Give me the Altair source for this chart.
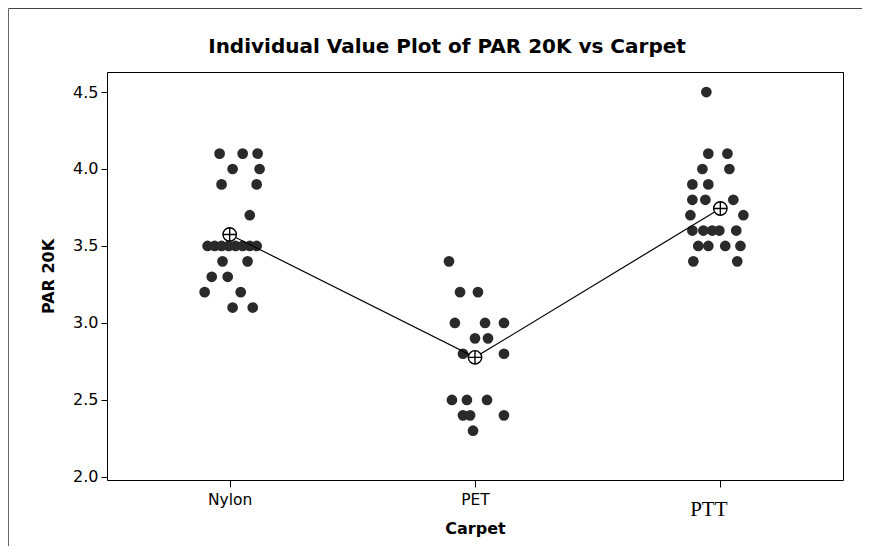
import altair as alt
import pandas as pd

categories = ["Nylon", "PET", "PTT"]

nylon_values = [4.1, 4.1, 4.1, 4.0, 4.0, 3.9, 3.9, 3.7,
                3.5, 3.5, 3.5, 3.5, 3.5, 3.5, 3.5, 3.5,
                3.4, 3.4, 3.3, 3.3, 3.2, 3.2, 3.1, 3.1]
nylon_jitter = [-0.041, 0.053, 0.114, 0.012, 0.122, -0.033, 0.110, 0.082,
                -0.090, -0.061, -0.033, -0.004, 0.024, 0.053, 0.082, 0.110,
                -0.029, 0.073, -0.073, -0.008, -0.102, 0.045, 0.012, 0.094]

pet_values = [3.4, 3.2, 3.2, 3.0, 3.0, 3.0, 2.9, 2.9, 2.8, 2.8,
              2.5, 2.5, 2.5, 2.4, 2.4, 2.4, 2.3]
pet_jitter = [-0.106, -0.061, 0.012, -0.082, 0.041, 0.118, 0.000, 0.053, -0.049, 0.118,
              -0.094, -0.033, 0.049, -0.049, -0.020, 0.118, -0.008]

ptt_values = [4.5, 4.1, 4.1, 4.0, 4.0, 3.9, 3.9, 3.8, 3.8, 3.8, 3.7, 3.7,
              3.6, 3.6, 3.6, 3.6, 3.6, 3.5, 3.5, 3.5, 3.5, 3.4, 3.4]
ptt_jitter = [-0.057, -0.049, 0.029, -0.073, 0.037, -0.114, -0.049, -0.114, -0.061, 0.053, -0.122, 0.094,
              -0.114, -0.069, -0.033, -0.004, 0.065, -0.090, -0.049, 0.020, 0.082, -0.110, 0.069]

y_ticks = [2.0, 2.5, 3.0, 3.5, 4.0, 4.5]

rows = []
for idx, (name, vals, jit) in enumerate(zip(categories,
                                            [nylon_values, pet_values, ptt_values],
                                            [nylon_jitter, pet_jitter, ptt_jitter])):
    for v, j in zip(vals, jit):
        rows.append({"carpet": name, "idx": idx, "value": v, "xj": idx + j})
df = pd.DataFrame(rows)

x_scale = alt.Scale(domain=[-0.5, 2.5], nice=False, zero=False)
y_scale = alt.Scale(domain=[1.98, 4.63], nice=False, zero=False)

x_axis = alt.Axis(
    values=[0, 1, 2],
    labelExpr="datum.value == 0 ? 'Nylon' : datum.value == 1 ? 'PET' : 'PTT'",
    title="Carpet",
    grid=False, domain=False,
    tickSize=7, tickColor="black",
    labelFont={"condition": {"test": "datum.value == 2", "value": "Liberation Serif"}, "value": "DejaVu Sans"},
    labelFontSize={"condition": {"test": "datum.value == 2", "value": 21}, "value": 15.5},
    labelPadding={"condition": {"test": "datum.value == 2", "value": 11}, "value": 5},
    labelOffset={"condition": {"test": "datum.value == 2", "value": -12}, "value": 0},
    labelColor="black",
    titleFont="DejaVu Sans", titleFontSize=16, titleFontWeight="bold", titleColor="black",
    titleY=53, titleBaseline="alphabetic",
)

y_axis = alt.Axis(
    values=y_ticks, format=".1f",
    title="PAR 20K",
    grid=False, domain=False,
    tickSize=6, tickColor="black",
    labelFont="DejaVu Sans", labelFontSize=16, labelPadding=3, labelColor="black",
    titleFont="DejaVu Sans", titleFontSize=16, titleFontWeight="bold", titleColor="black",
    titleX=-54, titleBaseline="alphabetic",
)

base = alt.Chart(df)

dots = base.mark_circle(size=115, color="#2a2a2a", opacity=1).encode(
    x=alt.X("xj:Q", scale=x_scale, axis=x_axis),
    y=alt.Y("value:Q", scale=y_scale, axis=y_axis),
)

means = base.transform_aggregate(
    mean="mean(value)", groupby=["carpet", "idx"]
)

mean_line = means.mark_line(color="black", strokeWidth=1.2).encode(
    x=alt.X("idx:Q", scale=x_scale),
    y=alt.Y("mean:Q", scale=y_scale),
    order="idx:Q",
)

mean_marker = means.mark_point(
    shape="M-1,0A1,1,0,1,1,1,0A1,1,0,1,1,-1,0Z M-1,0L1,0 M0,-1L0,1",
    size=180, filled=False, fill="white", fillOpacity=1,
    stroke="black", strokeWidth=1.4, opacity=1,
).encode(
    x=alt.X("idx:Q", scale=x_scale),
    y=alt.Y("mean:Q", scale=y_scale),
)

border_data = alt.Data(values=[{"k": 1}])
border_left = alt.Chart(border_data).mark_rule(color="#666", strokeWidth=1).encode(
    x=alt.value(-98.5), y=alt.value(-63.5), y2=alt.value(490)
)
border_top = alt.Chart(border_data).mark_rule(color="#444", strokeWidth=1).encode(
    x=alt.value(-98.5), x2=alt.value(770), y=alt.value(-63.5)
)

chart = alt.layer(border_left, border_top, dots, mean_line, mean_marker).properties(
    width=736,
    height=408,
    background="white",
    title=alt.TitleParams(
        "Individual Value Plot of PAR 20K vs Carpet",
        font="DejaVu Sans", fontSize=20, fontWeight="bold", color="black",
        frame="group", anchor="middle", dx=-28, offset=-65, baseline="alphabetic",
    ),
    autosize=alt.AutoSizeParams(type="none"),
    padding={"left": 99, "top": 64, "right": 19, "bottom": 66},
).configure_view(
    stroke="black", strokeWidth=1
)

chart.save("out.html", embed_options={"renderer": "svg", "actions": False})
